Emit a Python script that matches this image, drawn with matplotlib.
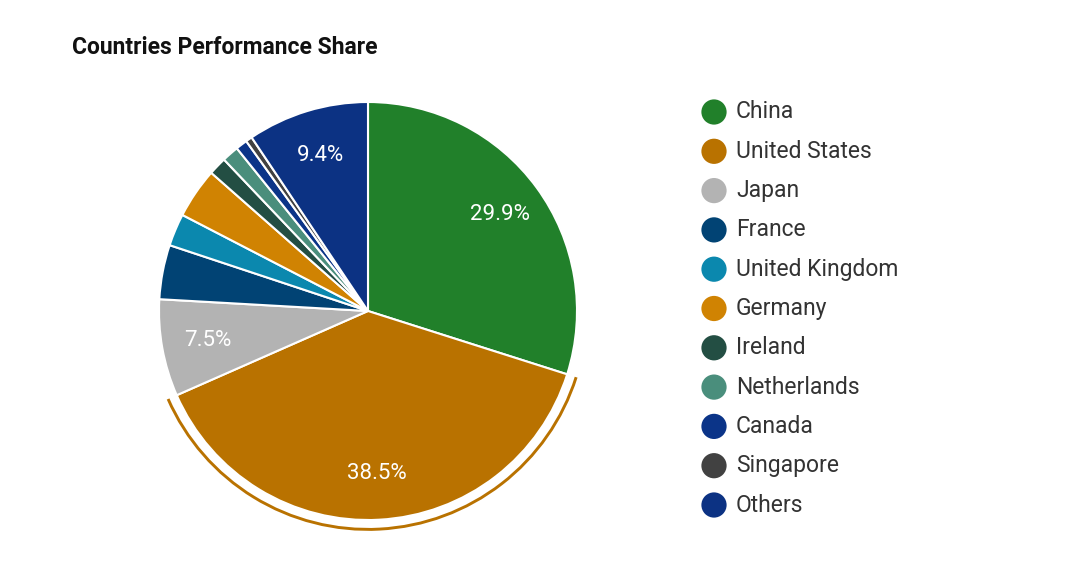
import numpy as np
import matplotlib
matplotlib.use("Agg")
import matplotlib.pyplot as plt
from matplotlib.patches import Wedge

# Data (clockwise from 12 o'clock)
countries = ["China", "United States", "Japan", "France", "United Kingdom",
             "Germany", "Ireland", "Netherlands", "Canada", "Singapore", "Others"]
shares = [29.9, 38.5, 7.5, 4.2, 2.5, 3.9, 1.4, 1.3, 0.9, 0.5, 9.4]
colors = ["#21802A", "#B97200", "#B3B3B3", "#014374", "#0B88AE", "#D08302",
          "#234E43", "#4A8E7C", "#0B3488", "#414141", "#0C3283"]
highlight = "United States"
min_label = 7.0

plt.rcParams["font.family"] = ["Roboto", "DejaVu Sans"]

W, H, DPI = 1080, 582, 100
fig = plt.figure(figsize=(W / DPI, H / DPI), dpi=DPI)

# pie axes, placed in pixels
cx, cy, r = 368, 311, 209
half = r * 1.1
ax = fig.add_axes([(cx - half) / W, (H - cy - half) / H, 2 * half / W, 2 * half / H])

wedges, _, autotexts = ax.pie(
    shares, colors=colors, startangle=90, counterclock=False, radius=1.0,
    autopct=lambda p: f"{p:.1f}%" if p >= min_label else "",
    pctdistance=0.78,
    wedgeprops=dict(edgecolor="white", linewidth=1.5),
    textprops=dict(color="white", fontsize=16),
)
ax.set_xlim(-1.1, 1.1)
ax.set_ylim(-1.1, 1.1)
ax.set_aspect("equal")
ax.axis("off")

# selected slice outline
i = countries.index(highlight)
w = wedges[i]
ax.add_patch(Wedge((0, 0), 1.052, w.theta1, w.theta2, width=0.014,
                   facecolor=colors[i], edgecolor="none"))

# legend and title drawn in pixel space
lax = fig.add_axes([0, 0, 1, 1], zorder=-1)
lax.set_xlim(0, W)
lax.set_ylim(H, 0)
lax.axis("off")

lax.text(72, 48, "Countries Performance Share", fontsize=16.5, fontweight="bold",
         color="#111111", va="center", ha="left")

y0, dy = 112, 39.3
for k, (name, c) in enumerate(zip(countries, colors)):
    y = y0 + k * dy
    lax.scatter([714], [y], s=330, color=c, edgecolor="none")
    lax.text(736, y, name, fontsize=16.5, color="#333333", va="center", ha="left")

fig.savefig("out.png", dpi=DPI, facecolor="white")
